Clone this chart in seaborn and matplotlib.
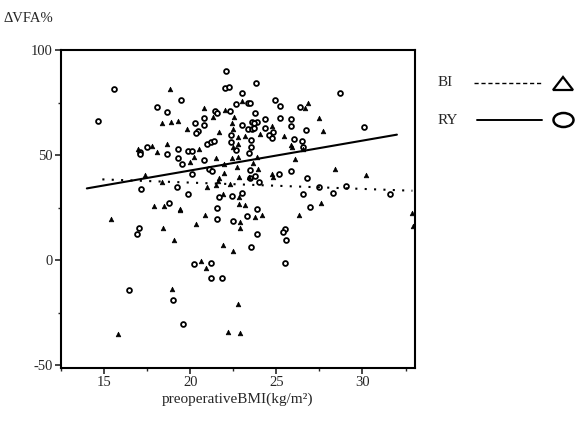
"""
ΔVFA% vs preoperative BMI, BI / RY scatter with fitted lines
"""
import matplotlib
matplotlib.use("Agg")
import matplotlib.pyplot as plt
from matplotlib.lines import Line2D
from matplotlib.patches import Ellipse, Polygon
import numpy as np
import pandas as pd
import seaborn as sns

# RY (circles)
ry_x = [22.09, 15.57, 22.0, 22.28, 22.98, 19.47, 18.06, 18.68, 14.66, 21.45, 21.56, 22.3, 22.64,
        20.83, 20.83, 20.28, 20.43, 20.34, 22.36, 22.36, 21.0, 21.23, 21.41, 19.87, 20.11, 19.28,
        19.3, 18.68, 17.47, 17.08, 17.08, 19.5, 20.83, 21.11, 21.28, 20.13, 17.13, 19.24, 19.87,
        22.45, 21.7, 22.98, 18.79, 21.56,
        23.83, 28.71, 23.36, 23.5, 24.92, 25.2, 23.75, 26.38, 25.2, 25.88, 25.88, 23.56, 23.88,
        23.72, 24.35, 23.0, 23.36, 23.56, 23.73, 24.32, 24.79, 26.73, 30.1, 24.6, 24.73, 26.05,
        26.49, 23.53, 23.53, 26.54, 23.39, 23.45, 25.87, 26.77, 25.13, 23.75, 23.47, 24.0, 27.47,
        29.02, 28.28, 26.54, 31.58, 26.98, 23.85, 22.64,
        17.05, 16.92, 21.58, 22.48, 20.24, 21.23, 21.23, 21.85, 16.43, 19.0, 19.57,
        23.32, 25.51, 25.4, 23.87, 25.57, 23.51, 25.49]
ry_y = [90, 81.3, 82, 82.5, 79.7, 76.2, 72.8, 70.3, 66.2, 70.8, 69.8, 71, 74.1,
        67.5, 64.3, 65.4, 61.4, 60.3, 59.5, 56.3, 55.2, 56.3, 56.7, 52, 51.9, 53,
        48.4, 50.3, 54, 51.4, 50.5, 45.6, 47.6, 43.2, 42.4, 41, 33.7, 34.6, 31.3,
        30.6, 30, 32, 27.3, 24.6,
        84.1, 79.7, 74.6, 74.6, 76.2, 73.3, 69.8, 72.7, 67.5, 67.1, 64, 65.9, 65.9,
        65.1, 67, 64.3, 62.2, 62.4, 63, 63, 61, 61.7, 63.3, 59.5, 58.2, 57.8,
        56.7, 57.1, 54, 54, 50.8, 42.9, 42.2, 39.2, 41, 40, 39.2, 37, 34.9,
        35.1, 32, 31.3, 31.3, 25.4, 24.3, 52.4,
        15.1, 12.2, 19.7, 18.6, -2.0, -1.6, -8.4, -8.4, -14.3, -18.9, -30.3,
        21, 14.6, 13.3, 12.2, 9.4, 6, -1.4]

# BI (triangles)
bi_x = [18.8, 20.79, 22.0, 23.0, 21.3, 18.36, 18.87, 19.32, 19.83, 21.66, 22.47, 22.75, 22.5,
        22.77, 20.53, 20.24, 18.68, 18.07, 17.79, 16.96, 21.47, 22.45, 22.8, 21.94, 19.96, 21.98,
        17.38, 18.36, 21.68, 21.6, 21.47, 22.3, 21.0, 21.89, 22.85, 17.92, 18.49, 19.41,
        26.66, 26.84, 27.45, 24.76, 27.72, 24.07, 25.47, 23.19, 25.84, 25.92, 26.52, 26.11, 23.67,
        23.96, 28.4, 24.73, 24.83, 30.19, 27.62, 23.2, 22.55, 22.45, 23.87, 22.73, 23.4, 22.83, 22.83,
        15.38, 18.41, 19.4, 20.85, 20.32, 22.92, 22.92, 19.06, 21.89, 22.48, 20.62, 20.9, 18.96,
        22.77, 15.78, 22.22, 22.9,
        23.75, 24.18, 26.32, 32.87, 32.94]
bi_y = [81.4, 72.2, 71.4, 75.7, 68.2, 65.4, 65.9, 66.3, 62.4, 60.8, 62.4, 58.4, 54,
        55.2, 53, 49.2, 55.2, 51.4, 54.4, 52.7, 48.7, 48.4, 48.9, 45.7, 46.7, 41.6,
        40.3, 37.3, 38.9, 37.6, 35.7, 36, 34.6, 31.4, 30.2, 25.9, 25.7, 24.1,
        72.2, 74.6, 67.5, 63.8, 61.4, 59.8, 59.2, 59, 54.8, 53.7, 52.9, 48, 46,
        43.3, 43.3, 41, 39.4, 40.3, 27.3, 26.3, 68, 65.1, 49.2, 44.4, 39.7, 39.7, 26.7,
        19.7, 15.1, 23.7, 21.6, 17.3, 17.9, 15.2, 9.4, 7.1, 4.3, -0.6, -3.8, -13.7,
        -21, -35.4, -34.1, -34.6,
        20.3, 21.6, 21.6, 22.2, 16.2]

# fitted lines
ry_fit_x = [14.0, 32.0]
ry_fit_y = [34.1, 59.7]
bi_fit_x = [14.9, 32.9]
bi_fit_y = [38.4, 33.0]

x_ticks = [15, 20, 25, 30]
y_ticks = [-50, 0, 50, 100]

W, H = 575, 422


def fx(px):
    return px / W


def fy(py):
    return 1 - py / H


sns.set_style("white")
plt.rcParams["font.family"] = ["Liberation Serif", "DejaVu Serif"]
plt.rcParams["axes.unicode_minus"] = False

fig = plt.figure(figsize=(5.75, 4.22), dpi=100)
ax = fig.add_axes([fx(61), fy(368), fx(415) - fx(61), fy(50) - fy(368)])

ry = pd.DataFrame({"bmi": ry_x, "dvfa": ry_y})
bi = pd.DataFrame({"bmi": bi_x, "dvfa": bi_y})

sns.scatterplot(data=ry, x="bmi", y="dvfa", ax=ax, marker="o", s=12,
                facecolor="white", edgecolor="black", linewidth=1.3, zorder=3)
sns.scatterplot(data=bi, x="bmi", y="dvfa", ax=ax, marker="^", s=11,
                color="black", edgecolor="black", linewidth=0.5, zorder=3)

sns.lineplot(x=ry_fit_x, y=ry_fit_y, ax=ax, color="black", linewidth=1.5, zorder=4)
sns.lineplot(x=bi_fit_x, y=bi_fit_y, ax=ax, color="black", linewidth=1.5,
             linestyle=(0, (1, 3.5)), zorder=4)

ax.set_xlim(13.1, 33.05)
ax.set_ylim(-51.4, 100)
ax.set_xticks(x_ticks)
ax.set_yticks(y_ticks)
ax.set_xticks(np.arange(12.5, 33.5, 2.5), minor=True)
ax.set_yticks([-25, 25, 75], minor=True)
ax.tick_params(which="major", direction="out", length=4, width=1.2, labelsize=10.5, pad=2)
ax.tick_params(which="minor", direction="out", length=2, width=1)
ax.tick_params(axis="both", which="both", bottom=True, left=True)
for s in ax.spines.values():
    s.set_linewidth(1.5)
    s.set_color("black")

ax.set_xlabel("preoperativeBMI(kg/m²)", fontsize=11, labelpad=2)
ax.set_ylabel("")
fig.text(fx(4), fy(19), "ΔVFA%", fontsize=10.5, va="center", ha="left")

# legend drawn by hand on the right
fig.text(fx(438), fy(83), "BI", fontsize=11, va="center", ha="left")
fig.text(fx(438), fy(120), "RY", fontsize=11, va="center", ha="left")
fig.add_artist(Line2D([fx(474), fx(541)], [fy(83), fy(83)], color="black",
                      linewidth=1.0, linestyle=(0, (3, 2))))
fig.add_artist(Line2D([fx(477), fx(542)], [fy(120), fy(120)], color="black", linewidth=1.4))
fig.add_artist(Polygon([[fx(553), fy(90)], [fx(573), fy(90)], [fx(563), fy(77)]],
                       closed=True, fill=False, edgecolor="black", linewidth=1.6,
                       transform=fig.transFigure))
fig.add_artist(Ellipse((fx(563.5), fy(120)), fx(20), 14 / H, fill=False,
                       edgecolor="black", linewidth=1.8, transform=fig.transFigure))

fig.savefig("out.png", dpi=100)
